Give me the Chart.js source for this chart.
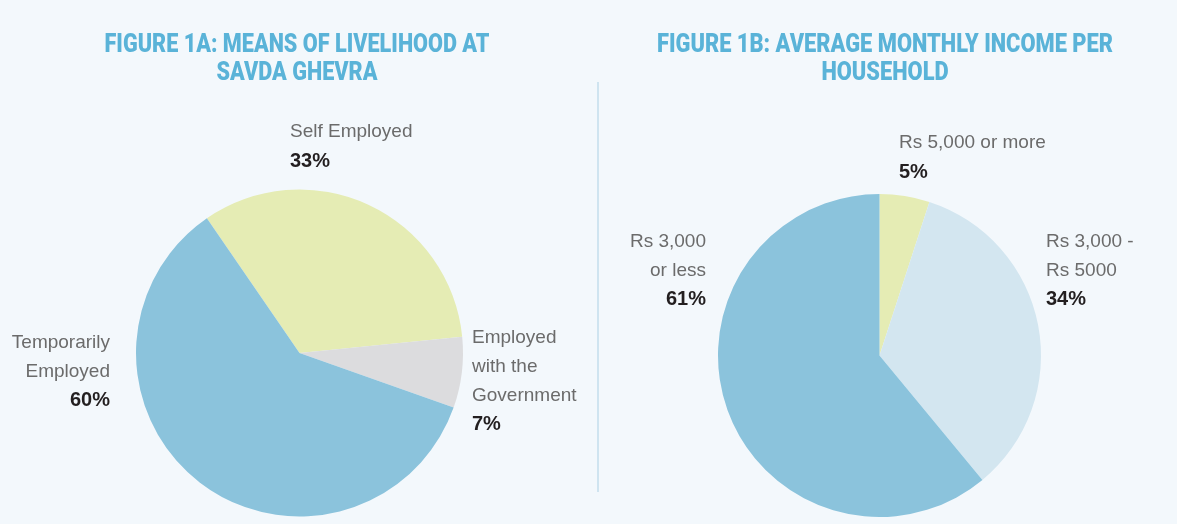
<!DOCTYPE html>
<html>
<head>
<meta charset="utf-8">
<script src="https://cdn.jsdelivr.net/npm/chart.js@4"></script>
<style>
  html, body { margin: 0; padding: 0; background: #f3f8fc; }
  #wrap { position: relative; width: 1177px; height: 524px; overflow: hidden; }
  canvas { position: absolute; left: 0; top: 0; }
  #divider { position: absolute; left: 597px; top: 82px; width: 2px; height: 410px; background: #cfe4f0; }
</style>
</head>
<body>
<div id="wrap">
  <div id="divider"></div>
  <canvas id="c1" width="1177" height="524"></canvas>
  <canvas id="c2" width="1177" height="524"></canvas>
</div>
<script>
// ---- Data ----
const livelihoodTitle = ['FIGURE 1A: MEANS OF LIVELIHOOD AT', 'SAVDA GHEVRA'];
const livelihoodLabels = [['Self Employed'], ['Employed', 'with the', 'Government'], ['Temporarily', 'Employed']];
const livelihoodValues = [33, 7, 60];

const incomeTitle = ['FIGURE 1B: AVERAGE MONTHLY INCOME PER', 'HOUSEHOLD'];
const incomeLabels = [['Rs 5,000 or more'], ['Rs 3,000 -', 'Rs 5000'], ['Rs 3,000', 'or less']];
const incomeValues = [5, 34, 61];

const livelihoodColors = ['#e5ecb4', '#dcdcde', '#8bc3dc'];
const incomeColors = ['#e5ecb4', '#d3e6f0', '#8bc3dc'];

// ---- Annotation plugin: titles and slice labels anchored to the pie geometry ----
const annotPlugin = {
  id: 'annot',
  afterDraw(chart, args, opts) {
    const meta = chart.getDatasetMeta(0);
    if (!meta.data.length) return;
    const arc = meta.data[0];
    const cx = arc.x, cy = arc.y;
    const ctx = chart.ctx;
    ctx.save();
    // Title
    const t = opts.title;
    ctx.font = t.font;
    ctx.fillStyle = t.color;
    ctx.textAlign = 'center';
    ctx.textBaseline = 'alphabetic';
    const w0 = ctx.measureText(t.lines[0]).width;
    const sx = t.width / w0;
    t.lines.forEach((line, i) => {
      ctx.save();
      ctx.translate(cx + t.dx, cy + t.dy + i * t.lineHeight);
      ctx.scale(sx, 1);
      ctx.fillText(line, 0, 0);
      ctx.restore();
    });
    // Slice labels
    const labels = chart.data.datasets[0].labelLines;
    const values = chart.data.datasets[0].data;
    opts.labels.forEach((L, i) => {
      const lines = labels[i];
      const x = cx + L.dx;
      let y = cy + L.dy;
      ctx.textAlign = L.align;
      ctx.font = opts.textFont;
      ctx.fillStyle = opts.textColor;
      lines.forEach((ln) => {
        ctx.fillText(ln, x, y);
        y += L.lh;
      });
      ctx.font = opts.pctFont;
      ctx.fillStyle = opts.pctColor;
      ctx.fillText(values[i] + '%', x, y);
    });
    ctx.restore();
  }
};

const common = {
  responsive: false,
  animation: false,
  events: [],
  plugins: { legend: { display: false }, tooltip: { enabled: false }, title: { display: false } }
};

const titleFont = '900 26px Roboto, "DejaVu Sans Condensed", sans-serif';
const textFont = '19px "Liberation Sans", Arial, sans-serif';
const pctFont = 'bold 20px "Liberation Sans", Arial, sans-serif';

new Chart(document.getElementById('c1'), {
  type: 'pie',
  data: {
    labels: livelihoodLabels.map(l => l.join(' ')),
    datasets: [{
      data: livelihoodValues,
      labelLines: livelihoodLabels,
      backgroundColor: livelihoodColors,
      borderWidth: 0
    }]
  },
  options: Object.assign({}, common, {
    rotation: -34.5,
    layout: { padding: { left: 136, right: 714, top: 189, bottom: 7 } },
    plugins: Object.assign({}, common.plugins, {
      annot: {
        title: { lines: livelihoodTitle, font: titleFont, color: '#5ab3d8', width: 385, dx: -2.5, dy: -301, lineHeight: 28 },
        textFont, pctFont, textColor: '#6b6b6b', pctColor: '#231f20',
        labels: [
          { dx: -9.5, dy: -216, align: 'left', lh: 30 },
          { dx: 172.5, dy: -10, align: 'left', lh: 29 },
          { dx: -189.5, dy: -5, align: 'right', lh: 29 }
        ]
      }
    })
  }),
  plugins: [annotPlugin]
});

new Chart(document.getElementById('c2'), {
  type: 'pie',
  data: {
    labels: incomeLabels.map(l => l.join(' ')),
    datasets: [{
      data: incomeValues,
      labelLines: incomeLabels,
      backgroundColor: incomeColors,
      borderWidth: 0
    }]
  },
  options: Object.assign({}, common, {
    rotation: 0,
    layout: { padding: { left: 718, right: 136, top: 194, bottom: 7 } },
    plugins: Object.assign({}, common.plugins, {
      annot: {
        title: { lines: incomeTitle, font: titleFont, color: '#5ab3d8', width: 456, dx: 5.5, dy: -303.5, lineHeight: 28 },
        textFont, pctFont, textColor: '#6b6b6b', pctColor: '#231f20',
        labels: [
          { dx: 19.5, dy: -207.5, align: 'left', lh: 30 },
          { dx: 166.5, dy: -108.5, align: 'left', lh: 29 },
          { dx: -173.5, dy: -108.5, align: 'right', lh: 29 }
        ]
      }
    })
  }),
  plugins: [annotPlugin]
});
</script>
</body>
</html>
